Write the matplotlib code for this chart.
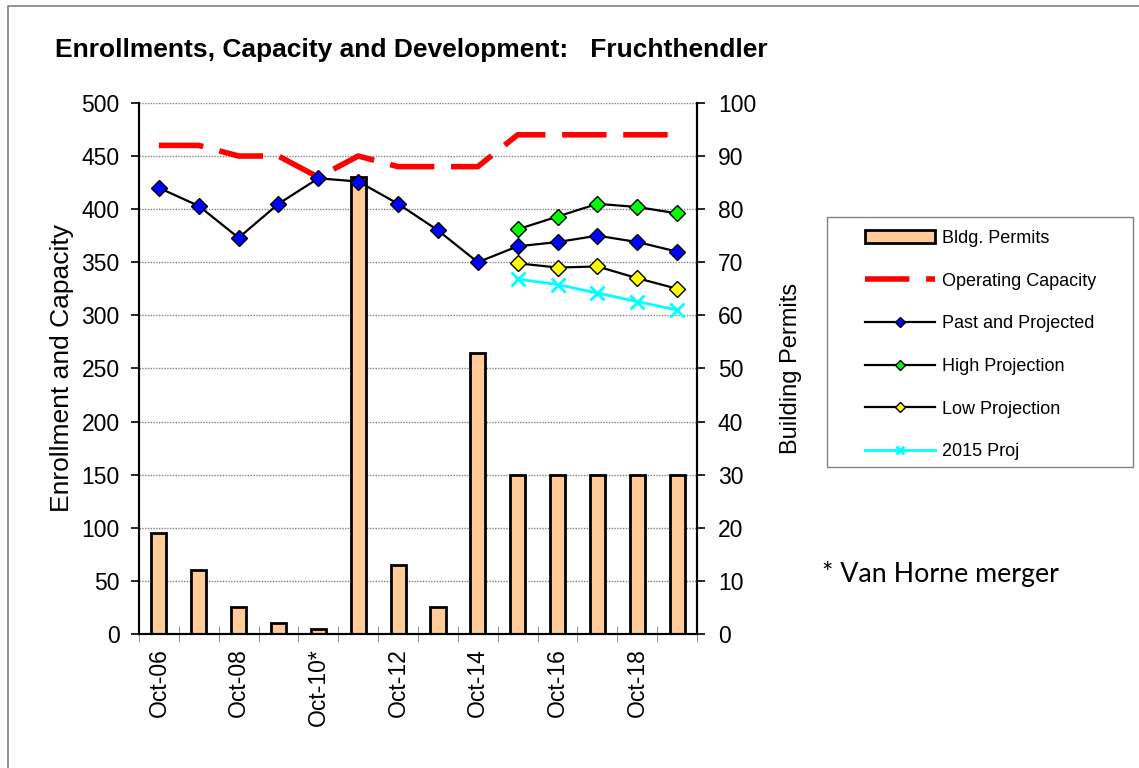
#!/usr/bin/env python3
"""
plot.py — Enrollments, capacity and development chart for Fruchthendler.
"""

import matplotlib
matplotlib.use("Agg")
import matplotlib.pyplot as plt
import numpy as np
from matplotlib.patches import Rectangle

plt.rcParams["font.family"] = ["Liberation Sans", "DejaVu Sans"]

years = ["Oct-06", "Oct-07", "Oct-08", "Oct-09", "Oct-10*", "Oct-11", "Oct-12",
         "Oct-13", "Oct-14", "Oct-15", "Oct-16", "Oct-17", "Oct-18", "Oct-19"]
permits = [19, 12, 5, 2, 1, 86, 13, 5, 53, 30, 30, 30, 30, 30]
capacity = [460, 460, 450, 450, 430, 450, 440, 440, 440, 470, 470, 470, 470, 470]
past_projected = [420, 403, 373, 405, 429, 426, 405, 380, 350, 365, 369, 375, 369, 360]
high_proj = [381, 393, 405, 402, 396]
low_proj = [349, 345, 346, 335, 325]
proj_2015 = [334, 329, 321, 313, 305]
proj_start = 9  # projections start at Oct-15


def main():
    fig = plt.figure(figsize=(11.39, 7.68), dpi=100)
    ax1 = fig.add_axes([0.122, 0.1745, 0.490, 0.6915])
    ax2 = ax1.twinx()
    ax1.set_zorder(ax2.get_zorder() + 1)
    ax1.patch.set_visible(False)

    x = np.arange(len(years))
    xp = x[proj_start:]

    # bars on the permits axis, behind the lines
    bars = ax2.bar(x, permits, width=0.38, color="#FFCC99", edgecolor="black",
                   linewidth=2, zorder=2, label="Bldg. Permits")
    ax2.set_ylim(0, 100)
    ax2.set_yticks(range(0, 101, 10))
    ax2.grid(axis="y", color="#808080", linestyle=(0, (1, 1)), linewidth=1, zorder=0)
    ax2.set_axisbelow(True)

    cap, = ax1.plot(x, capacity, color="#FF0000", linewidth=4, dashes=(8, 3),
                    label="Operating Capacity")
    past, = ax1.plot(x, past_projected, color="black", linewidth=1.6, marker="D",
                     markersize=8.5, markerfacecolor="#0000FF", markeredgecolor="black",
                     markeredgewidth=1, label="Past and Projected")
    high, = ax1.plot(xp, high_proj, color="black", linewidth=1.6, marker="D",
                     markersize=8.5, markerfacecolor="#00FF00", markeredgecolor="black",
                     markeredgewidth=1, label="High Projection")
    low, = ax1.plot(xp, low_proj, color="black", linewidth=1.6, marker="D",
                    markersize=8.5, markerfacecolor="#FFFF00", markeredgecolor="black",
                    markeredgewidth=1, label="Low Projection")
    p15, = ax1.plot(xp, proj_2015, color="#00FFFF", linewidth=2, marker="x",
                    markersize=10, markeredgewidth=2, label="2015 Proj")

    ax1.set_ylim(0, 500)
    ax1.set_yticks(range(0, 501, 50))
    ax1.set_xlim(-0.5, len(years) - 0.5)
    ax1.set_xticks(x[::2])
    ax1.set_xticklabels(years[::2], rotation=90)
    ax1.set_xticks(np.arange(-0.5, len(years), 1), minor=True)
    ax1.tick_params(axis="x", which="major", length=0, labelsize=16.5, pad=10)
    ax1.tick_params(axis="x", which="minor", length=12, direction="inout", color="#808080")
    ax1.tick_params(axis="y", labelsize=16.5, length=6, width=1.2, pad=8)
    ax2.tick_params(axis="y", labelsize=16.5, length=6, width=1.2, pad=9)

    for ax in (ax1, ax2):
        ax.spines["top"].set_visible(False)
        for s in ("left", "right", "bottom"):
            ax.spines[s].set_linewidth(1.5)

    ax1.set_ylabel("Enrollment and Capacity", fontsize=19, labelpad=5)
    ax2.set_ylabel("Building Permits", fontsize=17, labelpad=17)

    fig.text(55 / 1139, 1 - 57 / 768, "Enrollments, Capacity and Development:   Fruchthendler",
             fontsize=19, fontweight="bold", va="baseline", ha="left")

    # legend with its own frame
    fig.patches.append(Rectangle((827 / 1139, 1 - 467 / 768), 306 / 1139, 250 / 768,
                                 transform=fig.transFigure, fill=False,
                                 edgecolor="#808080", linewidth=1))
    fig.legend([bars, cap, past, high, low, p15],
               ["Bldg. Permits", "Operating Capacity", "Past and Projected",
                "High Projection", "Low Projection", "2015 Proj"],
               loc="upper left", bbox_to_anchor=(865 / 1139, 1 - 230 / 768),
               frameon=False, fontsize=13, handlelength=3.9, handletextpad=0.35,
               labelspacing=1.42, markerscale=0.6, borderaxespad=0, borderpad=0)

    fig.text(822 / 1139, 1 - 574 / 768, "* Van Horne merger", fontsize=19.3,
             family=["Lato", "DejaVu Sans"], va="center", ha="left")

    # outer frame
    fig.patches.append(Rectangle((8 / 1139, -0.01), 1.05, 1.01 - 6 / 768,
                                 transform=fig.transFigure, fill=False,
                                 edgecolor="#808080", linewidth=1.2))

    fig.savefig("out.png", dpi=100)


if __name__ == "__main__":
    main()
